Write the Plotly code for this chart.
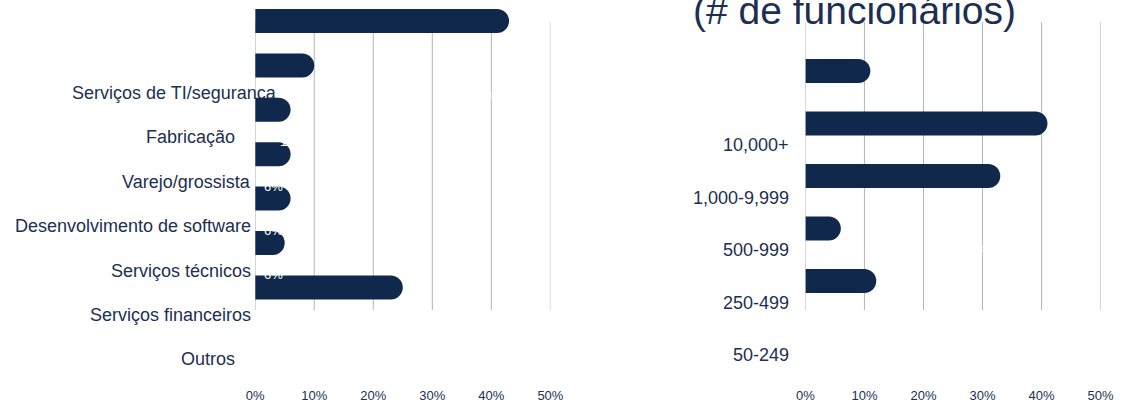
import plotly.graph_objects as go

# Setor (left panel), top to bottom
sector_labels = [
    "Serviços de TI/segurança",
    "Fabricação",
    "Varejo/grossista",
    "Desenvolvimento de software",
    "Serviços técnicos",
    "Serviços financeiros",
    "Outros",
]
sector_values = [43, 10, 6, 6, 6, 5, 25]

# Tamanho da empresa (right panel), top to bottom
size_labels = ["10,000+", "1,000-9,999", "500-999", "250-499", "50-249"]
size_values = [11, 41, 33, 6, 12]

tick_values = [0, 10, 20, 30, 40, 50]
tick_labels = ["0%", "10%", "20%", "30%", "40%", "50%"]

W, H = 1146, 407
NAVY = "#10284c"
TEXT = "#1c2f52"
GRID = "#b4b4b4"
FONT = "Liberation Sans, Arial, sans-serif"

plot_bottom = 386  # px from top where the x tick labels sit


def px_x(p):
    return p / W


def px_y(p):
    return 1 - p / H


# row geometry (px): first bar centre, row pitch, label offset in rows
left_geo = dict(c0=21, pitch=44.4, off=1.62, thick=24)
right_geo = dict(c0=71, pitch=52.5, off=1.41, thick=24)


def y_range(g):
    return [(plot_bottom - g["c0"]) / g["pitch"], -g["c0"] / g["pitch"]]


fig = go.Figure()

fig.add_trace(go.Bar(
    x=sector_values, y=list(range(len(sector_labels))), orientation="h",
    marker=dict(color=NAVY, line=dict(width=0)),
    width=left_geo["thick"] / left_geo["pitch"],
    xaxis="x", yaxis="y", hoverinfo="skip",
))
fig.add_trace(go.Bar(
    x=size_values, y=list(range(len(size_labels))), orientation="h",
    marker=dict(color=NAVY, line=dict(width=0)),
    width=right_geo["thick"] / right_geo["pitch"],
    xaxis="x2", yaxis="y2", hoverinfo="skip",
))

xcommon = dict(range=[0, 50], tickvals=tick_values, ticktext=tick_labels,
               showgrid=False, zeroline=False, showline=False, ticks="",
               tickfont=dict(family=FONT, size=13, color=TEXT), fixedrange=True)
ycommon = dict(showticklabels=False, showgrid=False, zeroline=False,
               showline=False, ticks="", fixedrange=True,
               domain=[px_y(plot_bottom), 1])

fig.update_layout(
    width=W, height=H, autosize=False,
    margin=dict(l=0, r=0, t=0, b=0),
    paper_bgcolor="white", plot_bgcolor="rgba(0,0,0,0)",
    showlegend=False, barcornerradius="50%",
    xaxis=dict(domain=[px_x(251), px_x(552)], anchor="y", **xcommon),
    xaxis2=dict(domain=[px_x(812), px_x(1113)], anchor="y2", **xcommon),
    yaxis=dict(anchor="x", range=y_range(left_geo), **ycommon),
    yaxis2=dict(anchor="x2", range=y_range(right_geo), **ycommon),
)

# vertical gridlines
for xr in ("x", "x2"):
    for t in tick_values:
        fig.add_shape(type="line", xref=xr, yref="paper", x0=t, x1=t,
                      y0=px_y(310), y1=px_y(22), layer="below",
                      line=dict(color=GRID, width=1))

annotations = []

# category labels (left)
label_shift = {"Serviços de TI/segurança": 24, "Fabricação": -18, "Outros": -18}
for i, name in enumerate(sector_labels):
    annotations.append(dict(
        xref="x", yref="y", x=0, y=i + left_geo["off"], text=name,
        xanchor="right", yanchor="middle", showarrow=False,
        xshift=label_shift.get(name, -2),
        font=dict(family=FONT, size=18, color=TEXT)))
    annotations.append(dict(
        xref="x", yref="y", x=sector_values[i], y=i + left_geo["off"] + 0.1,
        text=f"{sector_values[i]}%", xanchor="right", yanchor="middle",
        showarrow=False, xshift=-6,
        font=dict(family=FONT, size=13, color="white")))

# category labels (right)
for i, name in enumerate(size_labels):
    annotations.append(dict(
        xref="x2", yref="y2", x=0, y=i + right_geo["off"], text=name,
        xanchor="right", yanchor="middle", showarrow=False, xshift=-14,
        font=dict(family=FONT, size=18, color=TEXT)))
    annotations.append(dict(
        xref="x2", yref="y2", x=size_values[i], y=i + right_geo["off"],
        text=f"{size_values[i]}%", xanchor="right", yanchor="middle",
        showarrow=False, xshift=-6,
        font=dict(family=FONT, size=13, color="white")))

# panel title (right)
annotations.append(dict(
    xref="paper", yref="paper", x=px_x(862), y=px_y(11),
    text="(# de funcionários)", xanchor="center", yanchor="middle",
    showarrow=False, font=dict(family=FONT, size=39, color=TEXT)))

fig.update_layout(annotations=annotations)

fig.write_html("out.html")
